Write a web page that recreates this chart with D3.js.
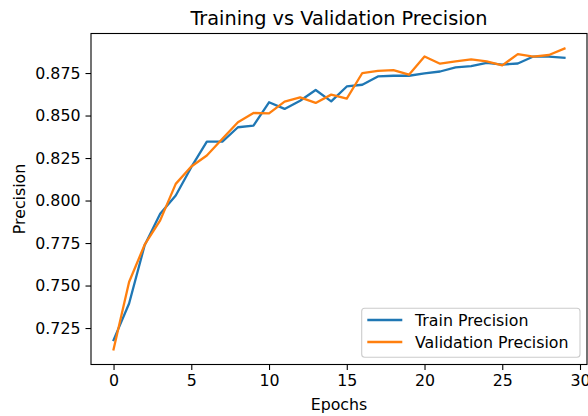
<!DOCTYPE html>
<html><head><meta charset="utf-8">
<script src="https://cdn.jsdelivr.net/npm/d3@7"></script>
<style>body{margin:0;background:#fff}svg{display:block}text{font-family:"DejaVu Sans",sans-serif;fill:#000}</style>
</head><body>
<svg id="c" width="588" height="416"></svg>
<script>
const epochs = d3.range(30);
const trainPrecision = [0.7179,0.7394,0.7737,0.7922,0.8030,0.8196,0.8347,0.8347,0.8431,0.8441,
  0.8578,0.8539,0.8587,0.8650,0.8583,0.8671,0.8681,0.8730,0.8734,0.8734,
  0.8748,0.8759,0.8783,0.8791,0.8810,0.8800,0.8806,0.8847,0.8846,0.8840];
const valPrecision = [0.7124,0.7521,0.7740,0.7883,0.8098,0.8200,0.8265,0.8363,0.8460,0.8515,
  0.8513,0.8582,0.8607,0.8574,0.8623,0.8599,0.8750,0.8763,0.8767,0.8740,
  0.8847,0.8805,0.8818,0.8830,0.8818,0.8795,0.8861,0.8847,0.8856,0.8894];
const xTicks = [0,5,10,15,20,25,30];
const yTicks = [0.725,0.750,0.775,0.800,0.825,0.850,0.875];
const seriesNames = ["Train Precision","Validation Precision"];
const colors = ["#1f77b4","#ff7f0e"];
const title = "Training vs Validation Precision";
const xLabel = "Epochs", yLabel = "Precision";

const svg = d3.select("#c");
const L = 91, R = 587, T = 33.5, B = 364.5;
const x = d3.scaleLinear().domain([-1.45, 30.45]).range([L, R]);
const all = trainPrecision.concat(valPrecision);
const mn = d3.min(all), mx = d3.max(all), pad = (mx - mn) * 0.05;
const y = d3.scaleLinear().domain([mn - pad, mx + pad]).range([B, T]);

const fs = 15.8;
// axes
const gx = svg.append("g").attr("transform", `translate(0,${B})`)
  .call(d3.axisBottom(x).tickValues(xTicks).tickFormat(d3.format("d")).tickSize(5.5).tickPadding(5));
const gy = svg.append("g").attr("transform", `translate(${L},0)`)
  .call(d3.axisLeft(y).tickValues(yTicks).tickFormat(d3.format(".3f")).tickSize(5.5).tickPadding(5));
[gx, gy].forEach(g => {
  g.select(".domain").remove();
  g.selectAll(".tick line").attr("stroke", "#000").attr("stroke-width", 1.1);
  g.selectAll(".tick text").attr("font-size", fs).attr("font-family", "DejaVu Sans").attr("fill", "#000");
});

// lines
const line = d3.line().x((d, i) => x(epochs[i])).y(d => y(d));
[trainPrecision, valPrecision].forEach((s, k) => {
  svg.append("path").datum(s).attr("d", line).attr("fill", "none")
    .attr("stroke", colors[k]).attr("stroke-width", 2.3).attr("stroke-linejoin", "round").attr("stroke-linecap", "square");
});

// frame
svg.append("rect").attr("x", L).attr("y", T).attr("width", R - L).attr("height", B - T)
  .attr("fill", "none").attr("stroke", "#000").attr("stroke-width", 1.1);

// title & labels
svg.append("text").attr("x", (L + R) / 2).attr("y", 25).attr("text-anchor", "middle")
  .attr("font-size", 19.3).text(title);
svg.append("text").attr("x", (L + R) / 2).attr("y", 410).attr("text-anchor", "middle")
  .attr("font-size", fs).text(xLabel);
svg.append("text").attr("transform", `translate(24.5,${(T + B) / 2}) rotate(-90)`).attr("text-anchor", "middle")
  .attr("font-size", fs).text(yLabel);

// legend
const lg = svg.append("g");
lg.append("rect").attr("x", 361.7).attr("y", 308.3).attr("width", 218.3).attr("height", 49)
  .attr("rx", 3).attr("fill", "#fff").attr("fill-opacity", 0.8).attr("stroke", "#cccccc").attr("stroke-width", 1.1);
seriesNames.forEach((n, k) => {
  const yy = 320 + k * 22;
  lg.append("line").attr("x1", 367.3).attr("x2", 402.3).attr("y1", yy).attr("y2", yy)
    .attr("stroke", colors[k]).attr("stroke-width", 2.3);
  lg.append("text").attr("x", 415).attr("y", yy + 5.5).attr("font-size", fs).text(n);
});
</script>
</body></html>
